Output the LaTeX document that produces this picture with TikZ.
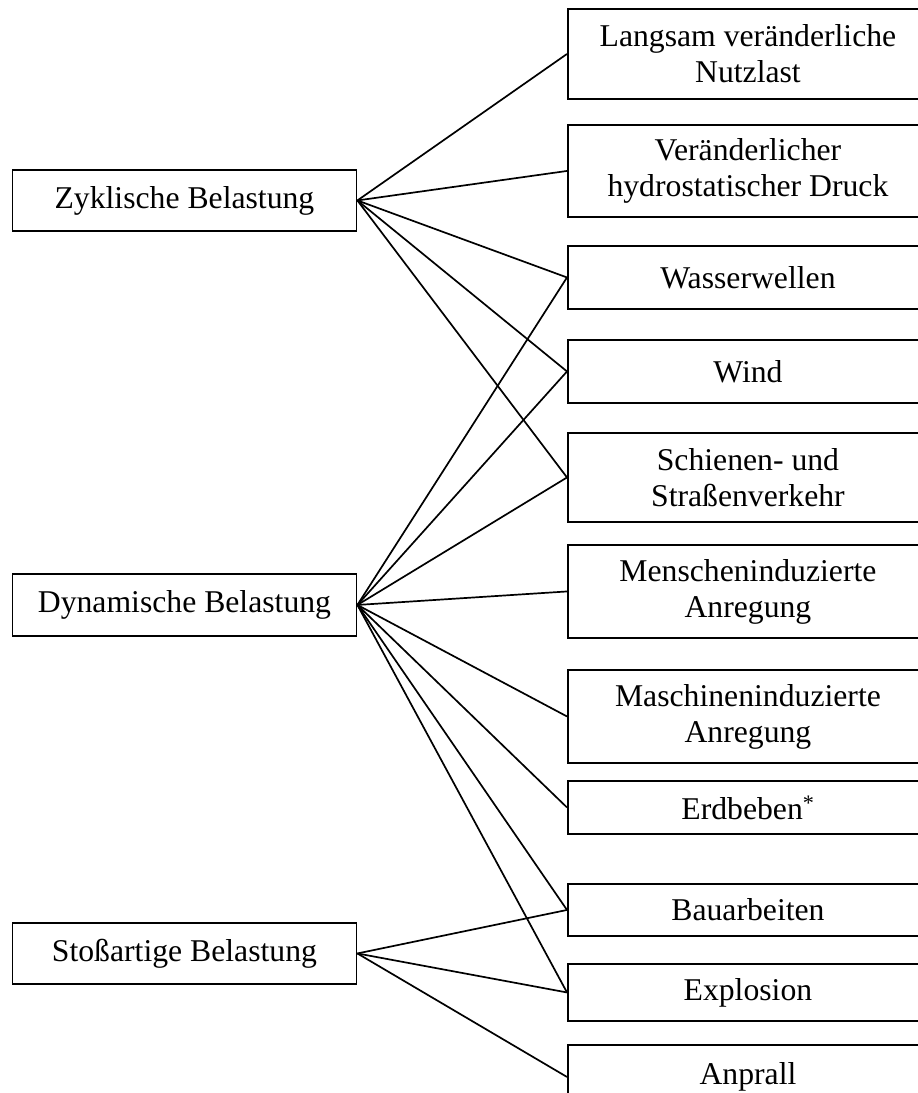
\documentclass[tikz,border=0pt]{standalone}
\usepackage{fontspec}
\setmainfont{Liberation Serif}
\begin{document}
\begin{tikzpicture}[x=1pt,y=-1pt,
  box/.style={draw, line width=1.9pt, rectangle, inner sep=0pt, anchor=north west, align=center, font=\fontsize{31.7}{36}\selectfont},
  lbox/.style={box, minimum width=344pt},
  rbox/.style={box, minimum width=360pt},
  conn/.style={line width=1.7pt}]
\useasboundingbox (0,0) rectangle (918,1093);
\clip (0,0) rectangle (918,1093);
% left boxes
\node[lbox, minimum height=61pt] (zyk) at (11.5,169) {Zyklische Belastung};
\node[lbox, minimum height=62pt] (dyn) at (11.5,573) {Dynamische Belastung};
\node[lbox, minimum height=61pt] (sto) at (11.5,922) {Stoßartige Belastung};
% right boxes
\node[rbox, minimum height=90pt] (r1) at (567,8) {Langsam veränderliche\\Nutzlast};
\node[rbox, minimum height=92pt] (r2) at (567,124) {Veränderlicher\\hydrostatischer Druck};
\node[rbox, minimum height=63pt] (r3) at (567,245) {Wasserwellen};
\node[rbox, minimum height=63pt] (r4) at (567,339) {Wind};
\node[rbox, minimum height=89pt] (r5) at (567,432) {Schienen- und\\Straßenverkehr};
\node[rbox, minimum height=93pt] (r6) at (567,544) {Menscheninduzierte\\Anregung};
\node[rbox, minimum height=93pt] (r7) at (567,669) {Maschineninduzierte\\Anregung};
\node[rbox, minimum height=53pt] (r8) at (567,780) {Erdbeben\textsuperscript{*}};
\node[rbox, minimum height=52pt] (r9) at (567,883) {Bauarbeiten};
\node[rbox, minimum height=57pt] (r10) at (567,963) {Explosion};
\node[rbox, minimum height=64pt] (r11) at (567,1044) {Anprall};
% connectors
\foreach \t in {r1,r2,r3,r4,r5} \draw[conn] (zyk.east) -- (\t.west);
\foreach \t in {r3,r4,r5,r6,r7,r8,r9,r10} \draw[conn] (dyn.east) -- (\t.west);
\foreach \t in {r9,r10,r11} \draw[conn] (sto.east) -- (\t.west);
\end{tikzpicture}
\end{document}
